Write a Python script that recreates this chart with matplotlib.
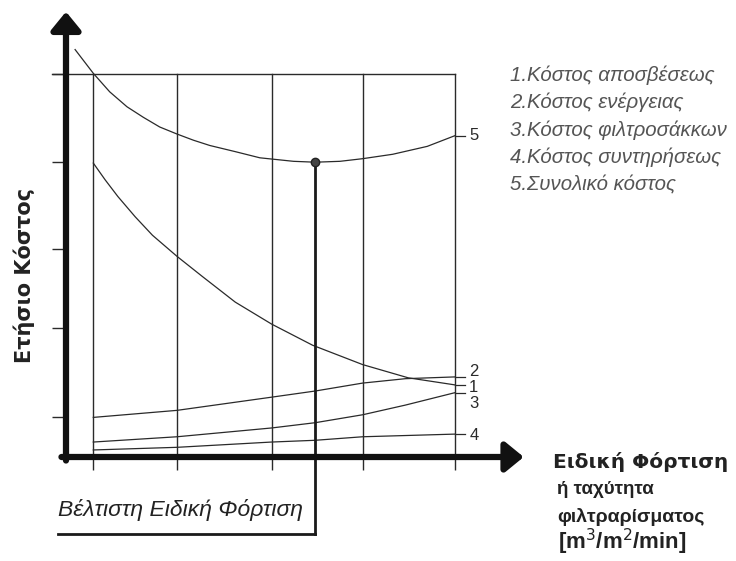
import numpy as np
import matplotlib.pyplot as plt

plt.rcParams['font.family'] = ['Liberation Sans', 'DejaVu Sans']

# grid / tick positions (arbitrary units)
xgrid = [0.30, 1.22, 2.26, 3.26, 4.27]
ygrid = [0.45, 1.47, 2.36, 3.35, 4.35]

# 5. total cost
x5 = [0.10, 0.30, 0.48, 0.67, 0.85, 1.03, 1.22, 1.40, 1.58, 1.86, 2.13, 2.50, 2.74,
      3.01, 3.26, 3.59, 3.97, 4.27]
y5 = [4.63, 4.36, 4.15, 3.98, 3.86, 3.75, 3.67, 3.60, 3.54, 3.47, 3.40, 3.36, 3.35,
      3.36, 3.39, 3.44, 3.53, 3.65]
# 1. depreciation cost
x1 = [0.30, 0.43, 0.57, 0.76, 0.95, 1.22, 1.50, 1.86, 2.26, 2.71, 3.01, 3.26, 3.76, 4.27]
y1 = [3.34, 3.15, 2.96, 2.73, 2.52, 2.28, 2.05, 1.76, 1.51, 1.27, 1.15, 1.05, 0.90, 0.82]
# 2. energy cost
x2 = [0.30, 1.22, 2.26, 2.74, 3.26, 3.73, 4.27]
y2 = [0.45, 0.53, 0.68, 0.75, 0.84, 0.89, 0.91]
# 3. filter bag cost
x3 = [0.30, 1.22, 2.26, 2.74, 3.26, 3.73, 4.00, 4.27]
y3 = [0.17, 0.23, 0.33, 0.39, 0.48, 0.59, 0.66, 0.73]
# 4. maintenance cost
x4 = [0.30, 1.22, 2.26, 2.74, 3.26, 4.27]
y4 = [0.08, 0.11, 0.17, 0.19, 0.23, 0.26]

curves = [("5", x5, y5, 0.00), ("1", x1, y1, -0.03), ("2", x2, y2, 0.06),
          ("3", x3, y3, -0.12), ("4", x4, y4, -0.01)]

legend_lines = ["1.Κόστος αποσβέσεως", "2.Κόστος ενέργειας", "3.Κόστος φιλτροσάκκων",
                "4.Κόστος συντηρήσεως", "5.Συνολικό κόστος"]

fig = plt.figure(figsize=(7.36, 5.61), dpi=100)
ax = fig.add_axes([66/736, 104/561, 455/736, 440/561])
ax.set_xlim(0, 5)
ax.set_ylim(0, 5)
for s in ax.spines.values():
    s.set_visible(False)

ink = '#2a2a2a'

# grid box
for xv in xgrid:
    ax.plot([xv, xv], [0, ygrid[-1]], color=ink, lw=1.0)
ax.plot([-0.154, xgrid[-1]], [ygrid[-1], ygrid[-1]], color=ink, lw=1.0, clip_on=False)

ax.set_xticks(xgrid)
ax.set_yticks(ygrid)
ax.set_xticklabels([])
ax.set_yticklabels([])
ax.tick_params(axis='x', direction='out', length=9.4, width=1.0, color=ink)
ax.tick_params(axis='y', direction='out', length=10, width=1.0, color=ink)

# curves + numbered leaders
for name, xs, ys, dy in curves:
    ax.plot(xs, ys, color=ink, lw=0.9)
    ax.plot([xs[-1], xs[-1] + 0.11], [ys[-1], ys[-1]], color=ink, lw=0.9)
    ax.text(xs[-1] + 0.16, ys[-1] + dy, name, fontsize=12, color=ink,
            ha='left', va='center')

# optimum
i_opt = int(np.argmin(y5))
x_opt = x5[i_opt]
ax.plot([x_opt, x_opt], [y5[i_opt], -0.875], color='#1a1a1a', lw=2.0, clip_on=False)
ax.plot([-0.088, x_opt], [-0.875, -0.875], color='#1a1a1a', lw=2.0, clip_on=False)
ax.plot(x_opt, y5[i_opt], marker='o', ms=6, mfc='#444', mec='#222', mew=1, clip_on=False)
ax.text(-0.088, -0.60, "Βέλτιστη Ειδική Φόρτιση", fontsize=16.5, style='italic',
        color='#222', ha='left', va='center')

# axes with arrows
arrow = dict(arrowstyle='-|>,head_length=0.55,head_width=0.45', lw=4.5, color='#111',
             mutation_scale=20, shrinkA=0, shrinkB=0)
ax.annotate('', xy=(0, 5.06), xytext=(0, -0.04), arrowprops=arrow, annotation_clip=False)
ax.annotate('', xy=(5.03, 0), xytext=(-0.05, 0), arrowprops=arrow, annotation_clip=False)

# axis labels
fig.text(24/736, 1 - 275/561, "Ετήσιο Κόστος", rotation=90, fontsize=15,
         fontweight='bold', family=['DejaVu Sans'], ha='center', va='center', color='#222')
fig.text(553/736, 1 - 462/561, "Ειδική Φόρτιση", fontsize=14.5, fontweight='bold',
         family=['DejaVu Sans'], ha='left', va='center', color='#222')
fig.text(557/736, 1 - 490/561, "ή ταχύτητα", fontsize=13.5, fontweight='bold',
         ha='left', va='center', color='#222')
fig.text(557/736, 1 - 517/561, "φιλτραρίσματος", fontsize=14, fontweight='bold',
         ha='left', va='center', color='#222')
fig.text(558/736, 1 - 542/561, "[m$^3$/m$^2$/min]", fontsize=16, fontweight='bold',
         ha='left', va='center', color='#222')

# legend text
for k, line in enumerate(legend_lines):
    fig.text(510/736, 1 - (75 + 27.5*k)/561, line, fontsize=14.7, style='italic',
             color='#555', ha='left', va='center')

fig.savefig("out.png", dpi=100)
